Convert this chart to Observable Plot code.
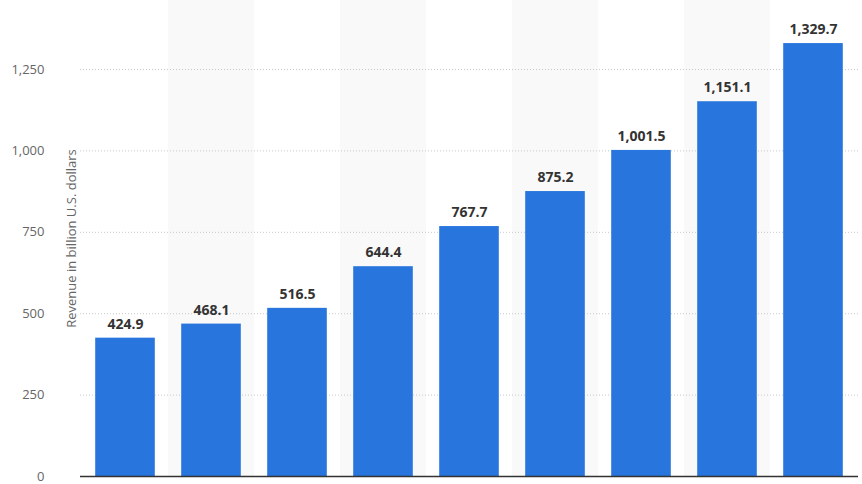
<!DOCTYPE html>
<html>
<head>
<meta charset="utf-8">
<script src="https://cdn.jsdelivr.net/npm/d3@7"></script>
<script src="https://cdn.jsdelivr.net/npm/@observablehq/plot@0.6"></script>
<style>
  html, body { margin: 0; padding: 0; background: #fff; }
  #chart svg { display: block; }
</style>
</head>
<body>
<div id="chart"></div>
<script>
const categories = ["1", "2", "3", "4", "5", "6", "7", "8", "9"];
const revenue = [424.9, 468.1, 516.5, 644.4, 767.7, 875.2, 1001.5, 1151.1, 1329.7];
const yTicks = [0, 250, 500, 750, 1000, 1250];
const yLabel = "Revenue in billion U.S. dollars";

const data = categories.map((c, i) => ({category: c, value: revenue[i], i}));
const yMax = 1462;
const shaded = data.filter(d => d.i % 2 === 1);
const fmtTick = d3.format(",");
const fmtVal = d3.format(",.1f");

const chart = Plot.plot({
  width: 862,
  height: 484,
  marginLeft: 80,
  marginRight: 4,
  marginTop: 0,
  marginBottom: 8,
  style: {fontFamily: "'Open Sans', sans-serif", background: "#fff"},
  x: {domain: categories, padding: 0, axis: null},
  y: {domain: [0, yMax], axis: null},
  marks: [
    Plot.barY(shaded, {x: "category", y1: 0, y2: yMax, fill: "#f9f9f9"}),
    Plot.gridY(yTicks.filter(t => t > 0), {stroke: "#c8c8c8", strokeOpacity: 1, strokeDasharray: "1,2"}),
    Plot.axisY(yTicks, {
      tickSize: 0, tickPadding: 36, tickFormat: fmtTick, fontSize: 13, color: "#666", label: null
    }),
    Plot.text([yLabel], {frameAnchor: "left", textAnchor: "middle", rotate: -90, dx: -9, fontSize: 13, fill: "#666"}),
    Plot.barY(data, {x: "category", y: "value", fill: "#2876dd", insetLeft: 13.2, insetRight: 13.2}),
    Plot.ruleY([0], {stroke: "#333", strokeWidth: 1.5}),
    Plot.text(data, {x: "category", y: "value", text: d => fmtVal(d.value), dy: -14, fontSize: 14, fontWeight: "bold", fill: "#333", letterSpacing: "0.5px"})
  ]
});
document.getElementById("chart").append(chart);
</script>
</body>
</html>
